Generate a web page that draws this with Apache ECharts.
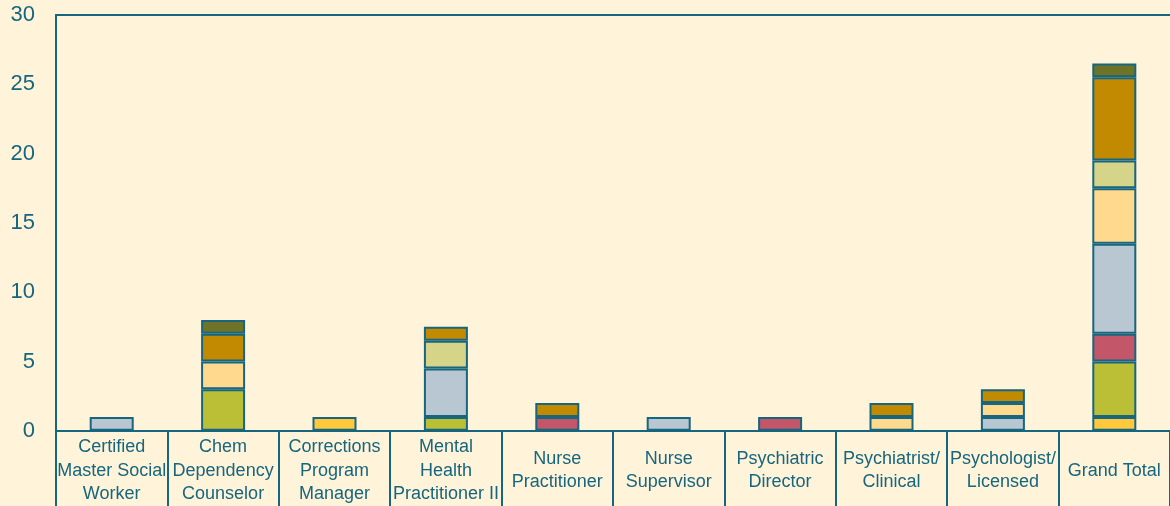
<!DOCTYPE html>
<html>
<head>
<meta charset="utf-8">
<script src="https://cdn.jsdelivr.net/npm/echarts@6/dist/echarts.min.js"></script>
<style>
  html, body { margin: 0; padding: 0; background: #FFF3D9; overflow: hidden; }
  #chart { width: 1170px; height: 506px; }
</style>
</head>
<body>
<div id="chart"></div>
<script>
// categories and their wrapped tick labels
const categories = ['Certified Master Social Worker', 'Chem Dependency Counselor', 'Corrections Program Manager',
  'Mental Health Practitioner II', 'Nurse Practitioner', 'Nurse Supervisor', 'Psychiatric Director',
  'Psychiatrist/ Clinical', 'Psychologist/ Licensed', 'Grand Total']
const tickLabels = ['Certified\nMaster Social\nWorker', 'Chem\nDependency\nCounselor', 'Corrections\nProgram\nManager',
  'Mental\nHealth\nPractitioner II', 'Nurse\nPractitioner', 'Nurse\nSupervisor', 'Psychiatric\nDirector',
  'Psychiatrist/\nClinical', 'Psychologist/\nLicensed', 'Grand Total']

// stacked segments, bottom to top
const s1 = [0, 0, 1, 0, 0, 0, 0, 0, 0, 1]
const s2 = [0, 3, 0, 1, 0, 0, 0, 0, 0, 4]
const s3 = [0, 0, 0, 0, 1, 0, 1, 0, 0, 2]
const s4 = [1, 0, 0, 3.5, 0, 1, 0, 0, 1, 6.5]
const s5 = [0, 2, 0, 0, 0, 0, 0, 1, 1, 4]
const s6 = [0, 0, 0, 2, 0, 0, 0, 0, 0, 2]
const s7 = [0, 2, 0, 1, 1, 0, 0, 1, 1, 6]
const s8 = [0, 1, 0, 0, 0, 0, 0, 0, 0, 1]

const seriesData = [s1, s2, s3, s4, s5, s6, s7, s8]
const colors = ['#FFC83D', '#BBBF36', '#C4566A', '#B9C7D3', '#FFD98E', '#D5D488', '#C28A00', '#6E7328']
const ink = '#16667F'

const chart = echarts.init(document.getElementById('chart'))
chart.setOption({
  backgroundColor: '#FFF3D9',
  animation: false,
  grid: {
    left: 56, right: 0, top: 15, bottom: 75,
    show: false
  },
  xAxis: [{
    type: 'category',
    data: categories,
    axisLine: { lineStyle: { color: ink, width: 2 } },
    axisTick: { show: true, length: 76, lineStyle: { color: ink, width: 2 } },
    axisLabel: {
      interval: 0,
      margin: 40,
      verticalAlign: 'middle',
      color: ink,
      fontFamily: '"Liberation Sans Narrow", "Arial Narrow", sans-serif',
      fontSize: 18,
      lineHeight: 23.5,
      formatter: (v, i) => tickLabels[i]
    }
  }, {
    // top frame line
    type: 'category',
    position: 'top',
    data: categories,
    axisLine: { show: true, lineStyle: { color: ink, width: 2 } },
    axisTick: { show: false },
    axisLabel: { show: false }
  }],
  yAxis: {
    type: 'value',
    min: 0, max: 30, interval: 5,
    axisLine: { show: true, lineStyle: { color: ink, width: 2 } },
    axisTick: { show: false },
    splitLine: { show: false },
    axisLabel: {
      margin: 21,
      color: ink,
      fontFamily: '"Liberation Sans", Arial, sans-serif',
      fontSize: 22
    }
  },
  series: seriesData.map((d, i) => ({
    name: 'S' + (i + 1),
    type: 'bar',
    stack: 'total',
    barWidth: 44,
    data: d.map(v => (v === 0 ? null : v)),
    itemStyle: { color: colors[i], borderColor: ink, borderWidth: 2 }
  }))
})
</script>
</body>
</html>
